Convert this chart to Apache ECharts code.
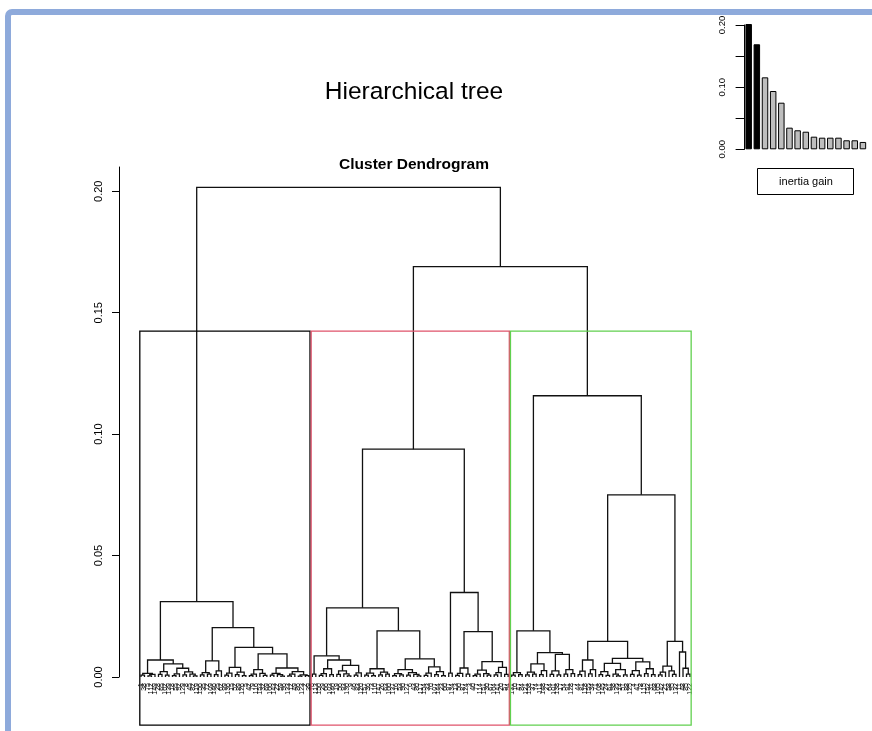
<!DOCTYPE html>
<html>
<head>
<meta charset="utf-8">
<title>Hierarchical tree</title>
<script src="https://cdn.jsdelivr.net/npm/echarts@6/dist/echarts.min.js"></script>
<style>
  html, body { margin: 0; padding: 0; background: #fff; }
  #chart { width: 872px; height: 731px; }
</style>
</head>
<body>
<div id="chart"></div>
<script>
// merges are [height, left, right]; a plain number is a leaf label
const blackCluster = [0.0310,
  [0.0070,
    [0.0015, [0.0008, 1, 38], [0.0011, [0.0005, 75, 112], 149]],
    [0.0054,
      [0.0022, [0.0011, 28, 65], [0.0008, 102, 139]],
      [0.0036, [0.0013, [0.0006, 18, 55], 92], [0.0021, [0.0009, 129, 8], [0.0012, 45, [0.0005, 82, 119]]]]]],
  [0.0203,
    [0.0066, [0.0018, [0.0009, 156, 35], [0.0012, 72, 109]], [0.0025, [0.0010, 146, 25], 62]],
    [0.0122,
      [0.0040, [0.0016, [0.0008, 99, 136], 15], [0.0020, [0.0010, 52, 89], [0.0006, 126, 5]]],
      [0.0095,
        [0.0030, [0.0012, [0.0006, 42, 79], 116], [0.0015, 153, [0.0007, 32, 69]]],
        [0.0037,
          [0.0015, [0.0008, 106, 143], [0.0010, 22, [0.0004, 59, 96]]],
          [0.0022, [0.0012, [0.0005, 133, 12], 49], [0.0009, [0.0004, 86, 123], [0.0006, 2, 39]]]]]]]]

const redCluster = [0.0938,
  [0.0285,
    [0.0087, [0.0012, 76, 113],
      [0.0070,
        [0.0034, [0.0014, [0.0007, 150, 29], 66], [0.0010, 103, 140]],
        [0.0048, [0.0025, [0.0011, 19, 56], [0.0013, 93, [0.0005, 130, 9]]], [0.0017, [0.0008, 46, 83], 120]]]],
    [0.0190,
      [0.0034, [0.0016, [0.0008, 157, 36], [0.0006, 73, 110]], [0.0020, [0.0009, 147, 26], [0.0012, 63, 100]]],
      [0.0075,
        [0.0030, [0.0014, [0.0006, 137, 16], [0.0009, 53, 90]], [0.0018, [0.0008, 127, 6], [0.0011, 43, [0.0005, 80, 117]]]],
        [0.0042, [0.0016, [0.0007, 154, 33], 70], [0.0022, [0.0010, 107, 144], [0.0006, 23, 60]]]]]],
  [0.0348,
    [0.0016, 97, 134],
    [0.0187,
      [0.0037, [0.0015, [0.0007, 13, 50], 87], [0.0012, 124, 3]],
      [0.0063,
        [0.0028, [0.0012, [0.0006, 40, 77], 114], [0.0014, 151, [0.0008, 30, 67]]],
        [0.0040, [0.0018, [0.0009, 104, 141], 20], [0.0011, 57, 94]]]]]]

const greenCluster = [0.1158,
  [0.0190,
    [0.0018, [0.0008, 131, 10], [0.0010, 47, 84]],
    [0.0100,
      [0.0054, [0.0020, [0.0009, 121, 158], [0.0012, 37, 74]], [0.0026, [0.0010, 111, 148], 27]],
      [0.0093, [0.0025, [0.0011, 64, 101], [0.0009, 138, 17]], [0.0030, [0.0012, 54, 91], [0.0014, 128, 7]]]]],
  [0.0750,
    [0.0147,
      [0.0070, [0.0024, [0.0010, 44, 81], 118], [0.0030, [0.0013, 155, 34], 71]],
      [0.0077,
        [0.0056, [0.0022, [0.0010, 108, 145], [0.0007, 24, 61]], [0.0030, [0.0012, 98, [0.0005, 135, 14]], [0.0009, 51, 88]]],
        [0.0062, [0.0026, [0.0011, 125, 4], [0.0008, 41, 78]], [0.0034, [0.0014, 115, 152], [0.0010, 31, 68]]]]],
    [0.0147,
      [0.0045, [0.0020, [0.0009, 105, 142], 21], [0.0025, 58, [0.0011, 95, 132]]],
      [0.0103, 11, [0.0036, 48, [0.0012, 85, 122]]]]]]

const upperMerges = [0.2016, 0.1690]
const yTicks = [0, 0.05, 0.1, 0.15, 0.2]

const inertiaGain = [0.2016, 0.169, 0.1158, 0.0938, 0.075, 0.0348, 0.0306, 0.0283,
  0.0203, 0.0187, 0.0187, 0.0187, 0.0145, 0.0145, 0.0118]
const gainTicks = [0, 0.05, 0.1, 0.15, 0.2]
const gainTickLabels = [0, 0.1, 0.2]

const clusterColors = ['#000000', '#DF536B', '#61D04F']
const rectBottom = -0.0198

const chartDom = document.getElementById('chart')
const chart = echarts.init(chartDom)

const tree = [upperMerges[0], blackCluster, [upperMerges[1], redCluster, greenCluster]]
const clusters = [blackCluster, redCluster, greenCluster]

const leafLabels = []
const links = []
function layout(node) {
  if (!Array.isArray(node)) {
    leafLabels.push(String(node))
    return { x: leafLabels.length - 1, h: 0 }
  }
  const a = layout(node[1])
  const b = layout(node[2])
  links.push([a.x, a.h, b.x, b.h, node[0]])
  return { x: (a.x + b.x) / 2, h: node[0] }
}
layout(tree)

function countLeaves(node) {
  return Array.isArray(node) ? countLeaves(node[1]) + countLeaves(node[2]) : 1
}
const cutHeight = (upperMerges[1] + greenCluster[0]) / 2
const boxes = []
let start = 0
clusters.forEach((c, i) => {
  const n = countLeaves(c)
  boxes.push([start - 0.34, start + n - 1 + 0.33, cutHeight, rectBottom, i])
  start += n
})
const nLeaves = leafLabels.length

const font = 'Liberation Sans, Arial, sans-serif'

const option = {
  animation: false,
  backgroundColor: '#fff',
  title: [
    {
      text: 'Hierarchical tree',
      left: 414,
      top: 80,
      padding: 0,
      textAlign: 'center',
      textStyle: { fontFamily: font, fontSize: 24.5, fontWeight: 'normal', color: '#000' },
    },
    {
      text: 'Cluster Dendrogram',
      left: 414,
      top: 157,
      padding: 0,
      textAlign: 'center',
      textStyle: { fontFamily: font, fontSize: 15.5, fontWeight: 'bold', color: '#000' },
    },
  ],
  graphic: [
    {
      type: 'rect',
      shape: { x: 8, y: 12, width: 900, height: 800, r: 4 },
      style: { fill: null, stroke: '#8eaadb', lineWidth: 6 },
    },
    {
      type: 'rect',
      shape: { x: 757.5, y: 168.5, width: 96, height: 26 },
      style: { fill: '#fff', stroke: '#000', lineWidth: 1 },
    },
    {
      type: 'text',
      x: 806,
      y: 182,
      style: { text: 'inertia gain', fontFamily: font, fontSize: 11, fill: '#000', align: 'center', verticalAlign: 'middle' },
    },
  ],
  grid: [
    { left: 139.25, width: 552.5, top: 167, height: 510 },
    { left: 744.6, width: 122.4, top: 25, height: 124.3 },
    // holds the visible height axis, which sits left of the leaves
    { left: 119, width: 10, top: 167, height: 510 },
  ],
  xAxis: [
    {
      type: 'category',
      gridIndex: 0,
      data: leafLabels,
      axisLine: { show: false },
      axisTick: { show: false },
      axisLabel: { interval: 0, rotate: 90, fontSize: 7, margin: 6, color: '#000', fontFamily: font },
    },
    { type: 'value', gridIndex: 0, min: -0.5, max: nLeaves - 0.5, show: false },
    {
      type: 'category',
      gridIndex: 1,
      data: inertiaGain.map((_, i) => String(i + 1)),
      show: false,
    },
    { type: 'value', gridIndex: 2, show: false },
  ],
  yAxis: [
    { type: 'value', gridIndex: 0, min: 0, max: 0.21, show: false },
    {
      type: 'value',
      gridIndex: 1,
      min: 0,
      max: 0.2,
      splitLine: { show: false },
      axisLine: { show: true, lineStyle: { color: '#000', width: 1 } },
      axisTick: { show: true, length: 9, customValues: gainTicks, lineStyle: { color: '#000' } },
      axisLabel: {
        customValues: gainTickLabels,
        rotate: 90,
        fontSize: 9.5,
        margin: 17,
        color: '#000',
        fontFamily: font,
        formatter: (v) => v.toFixed(2),
      },
    },
    {
      type: 'value',
      gridIndex: 2,
      min: 0,
      max: 0.21,
      splitLine: { show: false },
      axisLine: { show: true, lineStyle: { color: '#000', width: 1 } },
      axisTick: { show: true, length: 7, customValues: yTicks, lineStyle: { color: '#000' } },
      axisLabel: {
        customValues: yTicks,
        rotate: 90,
        fontSize: 11,
        margin: 15,
        color: '#000',
        fontFamily: font,
        formatter: (v) => v.toFixed(2),
      },
    },
  ],
  series: [
    {
      type: 'custom',
      xAxisIndex: 1,
      yAxisIndex: 0,
      clip: false,
      silent: true,
      data: links,
      encode: { x: [0, 2], y: [1, 3, 4] },
      renderItem: (params, api) => {
        const p1 = api.coord([api.value(0), api.value(1)])
        const p2 = api.coord([api.value(0), api.value(4)])
        const p3 = api.coord([api.value(2), api.value(4)])
        const p4 = api.coord([api.value(2), api.value(3)])
        return {
          type: 'polyline',
          shape: { points: [p1, p2, p3, p4] },
          style: { stroke: '#111', lineWidth: 1.3, fill: null },
        }
      },
    },
    {
      type: 'custom',
      xAxisIndex: 1,
      yAxisIndex: 0,
      clip: false,
      silent: true,
      data: boxes,
      encode: { x: [0, 1], y: [2, 3] },
      renderItem: (params, api) => {
        const tl = api.coord([api.value(0), api.value(2)])
        const br = api.coord([api.value(1), api.value(3)])
        return {
          type: 'rect',
          shape: { x: tl[0], y: tl[1], width: br[0] - tl[0], height: br[1] - tl[1] },
          style: { stroke: clusterColors[api.value(4)], lineWidth: 1.3, fill: null },
        }
      },
    },
    {
      type: 'bar',
      xAxisIndex: 2,
      yAxisIndex: 1,
      clip: false,
      silent: true,
      barWidth: 6.5,
      data: inertiaGain,
      itemStyle: {
        color: (p) => (p.dataIndex < clusters.length - 1 ? '#000' : '#bebebe'),
        borderColor: '#000',
        borderWidth: 1,
      },
    },
  ],
}

chart.setOption(option)

window.addEventListener('resize', () => chart.resize())
</script>
</body>
</html>
